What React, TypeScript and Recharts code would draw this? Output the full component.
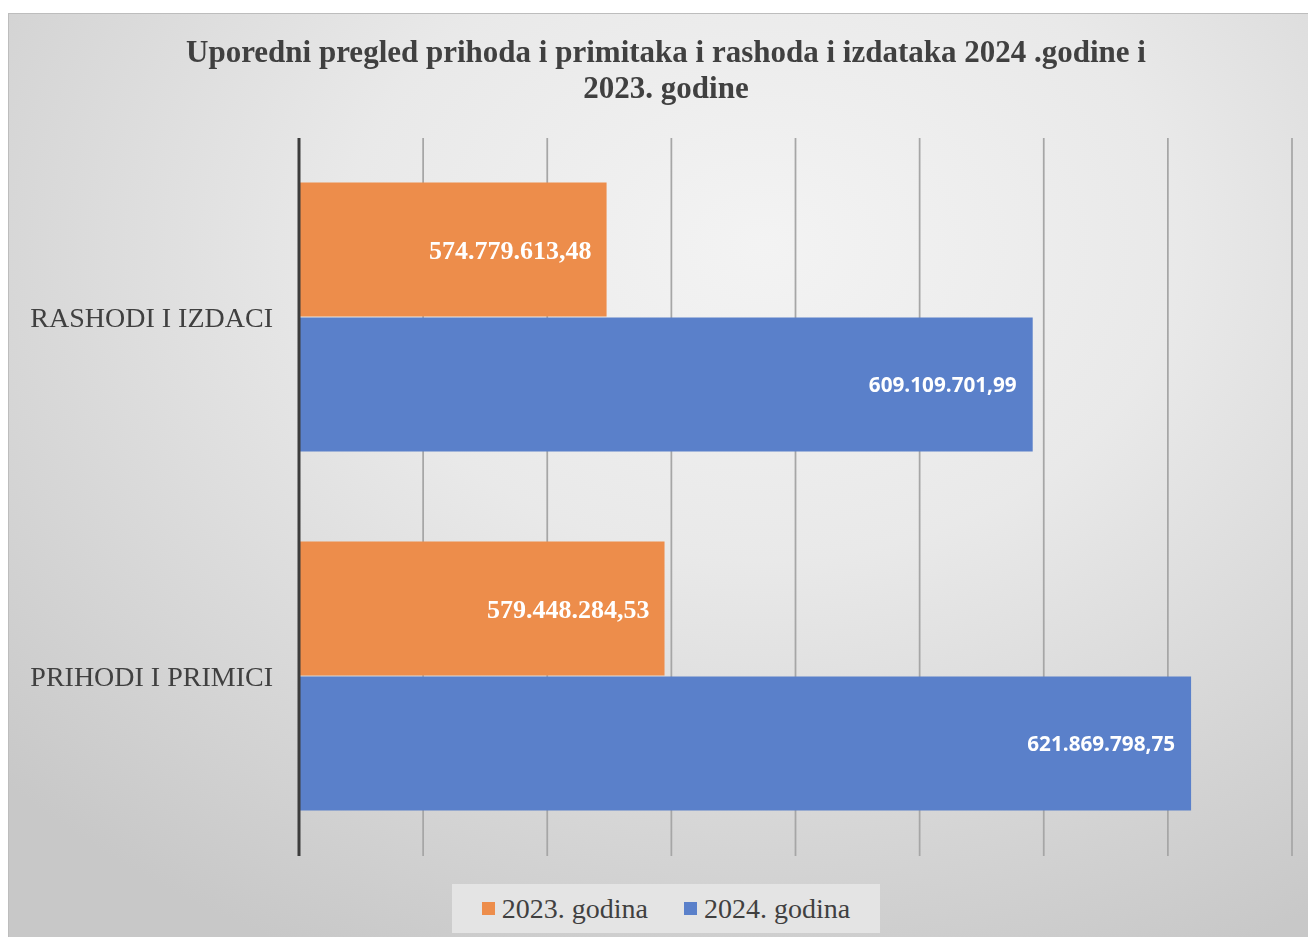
import { BarChart, Bar, XAxis, YAxis, CartesianGrid, Legend, LabelList } from "recharts";

const CATEGORIES = ["RASHODI I IZDACI", "PRIHODI I PRIMICI"];
const YEAR_2023 = [574779613.48, 579448284.53];
const YEAR_2024 = [609109701.99, 621869798.75];
const X_TICKS = [550e6, 560e6, 570e6, 580e6, 590e6, 600e6, 610e6, 620e6, 630e6];

const ORANGE = "#ed8d4b";
const BLUE = "#5a80ca";
const TEXT = "#404040";
const SERIF = '"Liberation Serif", "Times New Roman", serif';

const data = CATEGORIES.map((name, i) => ({
  name,
  y2023: YEAR_2023[i],
  y2024: YEAR_2024[i],
}));

function fmt(v: number) {
  const [int, dec] = v.toFixed(2).split(".");
  return int.replace(/\B(?=(\d{3})+(?!\d))/g, ".") + "," + dec;
}

function LegendBox() {
  const items = [
    { label: "2023. godina", color: ORANGE },
    { label: "2024. godina", color: BLUE },
  ];
  return (
    <div
      style={{
        width: 428,
        height: 49,
        background: "#e4e4e4",
        display: "flex",
        alignItems: "center",
        justifyContent: "center",
        gap: 36,
        fontFamily: SERIF,
        fontSize: 28,
        color: TEXT,
      }}
    >
      {items.map((it) => (
        <div key={it.label} style={{ display: "flex", alignItems: "center" }}>
          <span style={{ width: 13, height: 13, background: it.color, marginRight: 7, display: "inline-block" }} />
          {it.label}
        </div>
      ))}
    </div>
  );
}

export default function App() {
  return (
    <div
      style={{
        position: "fixed",
        left: 8,
        top: 13,
        width: 1300,
        height: 924,
        borderLeft: "1px solid #bdbdbd",
        borderTop: "1px solid #bdbdbd",
        background:
          "radial-gradient(ellipse 80% 85% at 58% 25%, #f3f3f3 0%, #e9e9e9 40%, #c8c8c8 100%)",
        overflow: "hidden",
      }}
    >
      <div
        style={{
          position: "absolute",
          left: 14,
          top: 20,
          width: 1286,
          textAlign: "center",
          fontFamily: SERIF,
          fontWeight: "bold",
          fontSize: 31,
          lineHeight: "36px",
          color: TEXT,
        }}
      >
        Uporedni pregled prihoda i primitaka i rashoda i izdataka 2024 .godine i
        <br />
        2023. godine
      </div>
      <BarChart
        width={1300}
        height={924}
        data={data}
        layout="vertical"
        margin={{ top: 124, right: 17, bottom: 33, left: 0 }}
        barCategoryGap="12.4%"
        barGap={1}
      >
        <CartesianGrid horizontal={false} stroke="#a6a6a6" strokeWidth={1.75} />
        <XAxis type="number" domain={[550e6, 630e6]} ticks={X_TICKS} hide />
        <YAxis
          type="category"
          dataKey="name"
          width={290}
          axisLine={{ stroke: "#3c3c3c", strokeWidth: 3 }}
          tickLine={false}
          tickSize={0}
          tickMargin={26}
          tick={{ fill: TEXT, fontFamily: SERIF, fontSize: 28 }}
        />
        <Legend
          content={() => <LegendBox />}
          wrapperStyle={{ left: 443, top: 870, width: 428, height: 49 }}
        />
        <Bar dataKey="y2023" name="2023. godina" fill={ORANGE} isAnimationActive={false}>
          <LabelList
            dataKey="y2023"
            position="insideRight"
            offset={15}
            formatter={(v: number) => fmt(v)}
            fill="#ffffff"
            style={{ fontFamily: SERIF, fontWeight: "bold", fontSize: 26 }}
          />
        </Bar>
        <Bar dataKey="y2024" name="2024. godina" fill={BLUE} isAnimationActive={false}>
          <LabelList
            dataKey="y2024"
            position="insideRight"
            offset={16}
            formatter={(v: number) => fmt(v)}
            fill="#ffffff"
            style={{ fontFamily: '"Open Sans", sans-serif', fontWeight: "bold", fontSize: 20.7 }}
          />
        </Bar>
      </BarChart>
    </div>
  );
}
